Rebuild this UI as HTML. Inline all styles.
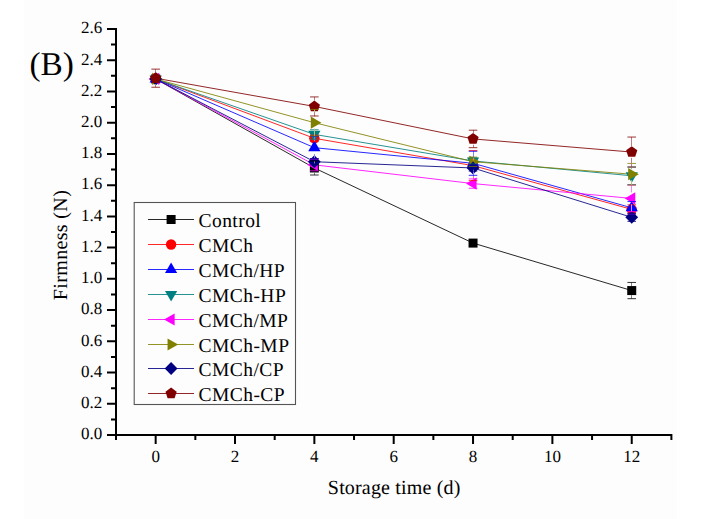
<!DOCTYPE html><html><head><meta charset="utf-8"><style>html,body{margin:0;padding:0;background:#fff;}svg{display:block;font-family:"Liberation Serif",serif;text-rendering:geometricPrecision;}</style></head><body>
<svg width="701" height="519" viewBox="0 0 701 519">
<rect width="701" height="519" fill="#ffffff"/>
<rect x="24" y="0" width="653" height="519" fill="#fdfdfd"/>
<polyline points="155.67,78.97 314.36,167.98 473.04,243.09 631.73,290.56" fill="none" stroke="#000000" stroke-width="0.85"/>
<polyline points="155.67,78.97 314.36,138.31 473.04,165.63 631.73,209.36" fill="none" stroke="#ff0000" stroke-width="0.85"/>
<polyline points="155.67,78.97 314.36,147.68 473.04,163.29 631.73,207.8" fill="none" stroke="#0000ff" stroke-width="0.85"/>
<polyline points="155.67,78.97 314.36,134.4 473.04,160.95 631.73,175.78" fill="none" stroke="#008080" stroke-width="0.85"/>
<polyline points="155.67,78.97 314.36,164.85 473.04,183.59 631.73,198.43" fill="none" stroke="#ff00ff" stroke-width="0.85"/>
<polyline points="155.67,78.97 314.36,122.69 473.04,161.73 631.73,174.22" fill="none" stroke="#808000" stroke-width="0.85"/>
<polyline points="155.67,78.97 314.36,161.73 473.04,167.98 631.73,217.32" fill="none" stroke="#000080" stroke-width="0.85"/>
<polyline points="155.67,78.19 314.36,106.45 473.04,138.93 631.73,152.05" fill="none" stroke="#800000" stroke-width="0.85"/>
<rect x="151.17" y="74.47" width="9" height="9" fill="#000000"/>
<rect x="309.86" y="163.48" width="9" height="9" fill="#000000"/>
<rect x="468.54" y="238.59" width="9" height="9" fill="#000000"/>
<rect x="627.23" y="286.06" width="9" height="9" fill="#000000"/>
<circle cx="155.67" cy="78.97" r="5.2" fill="#ff0000"/>
<circle cx="314.36" cy="138.31" r="5.2" fill="#ff0000"/>
<circle cx="473.04" cy="165.63" r="5.2" fill="#ff0000"/>
<circle cx="631.73" cy="209.36" r="5.2" fill="#ff0000"/>
<polygon points="155.67,71.9 149.57,82.5 161.77,82.5" fill="#0000ff"/>
<polygon points="314.36,140.61 308.26,151.21 320.46,151.21" fill="#0000ff"/>
<polygon points="473.04,156.23 466.94,166.83 479.14,166.83" fill="#0000ff"/>
<polygon points="631.73,200.73 625.63,211.33 637.83,211.33" fill="#0000ff"/>
<polygon points="155.67,86.04 149.57,75.44 161.77,75.44" fill="#008080"/>
<polygon points="314.36,141.47 308.26,130.87 320.46,130.87" fill="#008080"/>
<polygon points="473.04,168.02 466.94,157.42 479.14,157.42" fill="#008080"/>
<polygon points="631.73,182.85 625.63,172.25 637.83,172.25" fill="#008080"/>
<polygon points="148.6,78.97 159.2,72.87 159.2,85.07" fill="#ff00ff"/>
<polygon points="307.29,164.85 317.89,158.75 317.89,170.95" fill="#ff00ff"/>
<polygon points="465.98,183.59 476.58,177.49 476.58,189.69" fill="#ff00ff"/>
<polygon points="624.66,198.43 635.26,192.33 635.26,204.53" fill="#ff00ff"/>
<polygon points="162.74,78.97 152.14,72.87 152.14,85.07" fill="#808000"/>
<polygon points="321.42,122.69 310.82,116.59 310.82,128.79" fill="#808000"/>
<polygon points="480.11,161.73 469.51,155.63 469.51,167.83" fill="#808000"/>
<polygon points="638.8,174.22 628.2,168.12 628.2,180.32" fill="#808000"/>
<polygon points="155.67,72.57 162.07,78.97 155.67,85.37 149.27,78.97" fill="#000080"/>
<polygon points="314.36,155.33 320.76,161.73 314.36,168.13 307.96,161.73" fill="#000080"/>
<polygon points="473.04,161.58 479.44,167.98 473.04,174.38 466.64,167.98" fill="#000080"/>
<polygon points="631.73,210.92 638.13,217.32 631.73,223.72 625.33,217.32" fill="#000080"/>
<polygon points="155.67,72.29 161.28,76.37 159.14,82.96 152.2,82.96 150.06,76.37" fill="#800000"/>
<polygon points="314.36,100.55 319.97,104.63 317.83,111.23 310.89,111.23 308.75,104.63" fill="#800000"/>
<polygon points="473.04,133.03 478.65,137.11 476.51,143.71 469.57,143.71 467.43,137.11" fill="#800000"/>
<polygon points="631.73,146.15 637.34,150.23 635.2,156.82 628.26,156.82 626.12,150.23" fill="#800000"/>
<path d="M314.5 160.95V163.48M314.5 172.48V175" stroke="#7e7e7e" stroke-width="1" fill="none"/>
<path d="M310.06 160.95H318.66M310.06 175H318.66" stroke="#000000" stroke-width="0.8" fill="none"/>
<path d="M631.5 282.44V286.06M631.5 295.06V298.68" stroke="#7e7e7e" stroke-width="1" fill="none"/>
<path d="M627.43 282.44H636.03M627.43 298.68H636.03" stroke="#000000" stroke-width="0.8" fill="none"/>
<path d="M310.06 135.18H318.66M310.06 141.43H318.66" stroke="#ff0000" stroke-width="0.8" fill="none"/>
<path d="M473.5 150.64V160.43M473.5 170.83V180.63" stroke="#fe7e7e" stroke-width="1" fill="none"/>
<path d="M468.74 150.64H477.34M468.74 180.63H477.34" stroke="#ff0000" stroke-width="0.8" fill="none"/>
<path d="M627.43 204.83H636.03M627.43 213.89H636.03" stroke="#ff0000" stroke-width="0.8" fill="none"/>
<path d="M314.5 136.59V141.18M314.5 154.18V158.76" stroke="#7e7efe" stroke-width="1" fill="none"/>
<path d="M310.06 136.59H318.66M310.06 158.76H318.66" stroke="#0000ff" stroke-width="0.8" fill="none"/>
<path d="M473.5 151.27V156.79M473.5 169.79V175.32" stroke="#7e7efe" stroke-width="1" fill="none"/>
<path d="M468.74 151.27H477.34M468.74 175.32H477.34" stroke="#0000ff" stroke-width="0.8" fill="none"/>
<path d="M627.43 201.55H636.03M627.43 214.04H636.03" stroke="#0000ff" stroke-width="0.8" fill="none"/>
<path d="M310.06 129.72H318.66M310.06 139.09H318.66" stroke="#008080" stroke-width="0.8" fill="none"/>
<path d="M468.74 157.83H477.34M468.74 164.07H477.34" stroke="#008080" stroke-width="0.8" fill="none"/>
<path d="M631.5 167.04V169.28M631.5 182.28V184.53" stroke="#7ebebe" stroke-width="1" fill="none"/>
<path d="M627.43 167.04H636.03M627.43 184.53H636.03" stroke="#008080" stroke-width="0.8" fill="none"/>
<path d="M310.06 158.92H318.66M310.06 170.79H318.66" stroke="#ff00ff" stroke-width="0.8" fill="none"/>
<path d="M468.74 178.91H477.34M468.74 188.28H477.34" stroke="#ff00ff" stroke-width="0.8" fill="none"/>
<path d="M631.5 185.15V192.43M631.5 204.43V211.7" stroke="#fe7efe" stroke-width="1" fill="none"/>
<path d="M627.43 185.15H636.03M627.43 211.7H636.03" stroke="#ff00ff" stroke-width="0.8" fill="none"/>
<path d="M314.5 109.42V116.69M314.5 128.69V135.97" stroke="#bebe7e" stroke-width="1" fill="none"/>
<path d="M310.06 109.42H318.66M310.06 135.97H318.66" stroke="#808000" stroke-width="0.8" fill="none"/>
<path d="M468.74 157.05H477.34M468.74 166.42H477.34" stroke="#808000" stroke-width="0.8" fill="none"/>
<path d="M631.5 163.45V168.22M631.5 180.22V185" stroke="#bebe7e" stroke-width="1" fill="none"/>
<path d="M627.43 163.45H636.03M627.43 185H636.03" stroke="#808000" stroke-width="0.8" fill="none"/>
<path d="M310.06 158.61H318.66M310.06 164.85H318.66" stroke="#000080" stroke-width="0.8" fill="none"/>
<path d="M468.74 164.85H477.34M468.74 171.1H477.34" stroke="#000080" stroke-width="0.8" fill="none"/>
<path d="M627.43 213.26H636.03M627.43 221.38H636.03" stroke="#000080" stroke-width="0.8" fill="none"/>
<path d="M155.5 69.13V72.39M155.5 83.99V87.25" stroke="#be7e7e" stroke-width="1" fill="none"/>
<path d="M151.37 69.13H159.97M151.37 87.25H159.97" stroke="#800000" stroke-width="0.8" fill="none"/>
<path d="M314.5 96.93V100.65M314.5 112.25V115.98" stroke="#be7e7e" stroke-width="1" fill="none"/>
<path d="M310.06 96.93H318.66M310.06 115.98H318.66" stroke="#800000" stroke-width="0.8" fill="none"/>
<path d="M473.5 130.19V133.13M473.5 144.73V147.68" stroke="#be7e7e" stroke-width="1" fill="none"/>
<path d="M468.74 130.19H477.34M468.74 147.68H477.34" stroke="#800000" stroke-width="0.8" fill="none"/>
<path d="M631.5 137.06V146.25M631.5 157.85V167.04" stroke="#be7e7e" stroke-width="1" fill="none"/>
<path d="M627.43 137.06H636.03M627.43 167.04H636.03" stroke="#800000" stroke-width="0.8" fill="none"/>
<path d="M116 28V436M115 435H672.4M107 435H116M111 419.38H116M107 403.77H116M111 388.15H116M107 372.54H116M111 356.92H116M107 341.31H116M111 325.69H116M107 310.08H116M111 294.46H116M107 278.85H116M111 263.23H116M107 247.62H116M111 232H116M107 216.38H116M111 200.77H116M107 185.15H116M111 169.54H116M107 153.92H116M111 138.31H116M107 122.69H116M111 107.08H116M107 91.46H116M111 75.85H116M107 60.23H116M111 44.62H116M107 29H116M116 435V440M155.67 435V444M195.34 435V440M235.01 435V444M274.69 435V440M314.36 435V444M354.03 435V440M393.7 435V444M433.37 435V440M473.04 435V444M512.71 435V440M552.39 435V444M592.06 435V440M631.73 435V444M671.4 435V440" stroke="#000" stroke-width="2" fill="none" stroke-linecap="butt"/>
<text x="102.3" y="439.3" font-size="17" text-anchor="end">0.0</text>
<text x="102.3" y="408.07" font-size="17" text-anchor="end">0.2</text>
<text x="102.3" y="376.84" font-size="17" text-anchor="end">0.4</text>
<text x="102.3" y="345.61" font-size="17" text-anchor="end">0.6</text>
<text x="102.3" y="314.38" font-size="17" text-anchor="end">0.8</text>
<text x="102.3" y="283.15" font-size="17" text-anchor="end">1.0</text>
<text x="102.3" y="251.92" font-size="17" text-anchor="end">1.2</text>
<text x="102.3" y="220.68" font-size="17" text-anchor="end">1.4</text>
<text x="102.3" y="189.45" font-size="17" text-anchor="end">1.6</text>
<text x="102.3" y="158.22" font-size="17" text-anchor="end">1.8</text>
<text x="102.3" y="126.99" font-size="17" text-anchor="end">2.0</text>
<text x="102.3" y="95.76" font-size="17" text-anchor="end">2.2</text>
<text x="102.3" y="64.53" font-size="17" text-anchor="end">2.4</text>
<text x="102.3" y="33.3" font-size="17" text-anchor="end">2.6</text>
<text x="155.67" y="461.5" font-size="17" text-anchor="middle">0</text>
<text x="235.01" y="461.5" font-size="17" text-anchor="middle">2</text>
<text x="314.36" y="461.5" font-size="17" text-anchor="middle">4</text>
<text x="393.7" y="461.5" font-size="17" text-anchor="middle">6</text>
<text x="473.04" y="461.5" font-size="17" text-anchor="middle">8</text>
<text x="552.39" y="461.5" font-size="17" text-anchor="middle">10</text>
<text x="631.73" y="461.5" font-size="17" text-anchor="middle">12</text>
<text x="394.2" y="494.2" font-size="20" letter-spacing="0.17" text-anchor="middle">Storage time (d)</text>
<text transform="translate(67 245) rotate(-90)" font-size="20" letter-spacing="0.35" text-anchor="middle">Firmness (N)</text>
<text x="29.5" y="74.7" font-size="33.3">(B)</text>
<rect x="134.2" y="202.5" width="161.3" height="202" fill="none" stroke="#555" stroke-width="1.1"/>
<line x1="148" y1="219.5" x2="194" y2="219.5" stroke="#000000" stroke-width="0.85"/>
<rect x="166.6" y="215" width="9" height="9" fill="#000000"/>
<text x="198.5" y="226.5" font-size="19.5" letter-spacing="0.45">Control</text>
<line x1="148" y1="244.5" x2="194" y2="244.5" stroke="#ff0000" stroke-width="0.85"/>
<circle cx="171.1" cy="244.5" r="5.2" fill="#ff0000"/>
<text x="198.5" y="251.5" font-size="19.5" letter-spacing="0.45">CMCh</text>
<line x1="148" y1="269.5" x2="194" y2="269.5" stroke="#0000ff" stroke-width="0.85"/>
<polygon points="171.1,262.43 165,273.03 177.2,273.03" fill="#0000ff"/>
<text x="198.5" y="276.5" font-size="19.5" letter-spacing="0.45">CMCh/HP</text>
<line x1="148" y1="294.5" x2="194" y2="294.5" stroke="#008080" stroke-width="0.85"/>
<polygon points="171.1,301.57 165,290.97 177.2,290.97" fill="#008080"/>
<text x="198.5" y="301.5" font-size="19.5" letter-spacing="0.45">CMCh-HP</text>
<line x1="148" y1="319.5" x2="194" y2="319.5" stroke="#ff00ff" stroke-width="0.85"/>
<polygon points="164.03,319.5 174.63,313.4 174.63,325.6" fill="#ff00ff"/>
<text x="198.5" y="326.5" font-size="19.5" letter-spacing="0.45">CMCh/MP</text>
<line x1="148" y1="344.5" x2="194" y2="344.5" stroke="#808000" stroke-width="0.85"/>
<polygon points="178.17,344.5 167.57,338.4 167.57,350.6" fill="#808000"/>
<text x="198.5" y="351.5" font-size="19.5" letter-spacing="0.45">CMCh-MP</text>
<line x1="148" y1="368.5" x2="194" y2="368.5" stroke="#000080" stroke-width="0.85"/>
<polygon points="171.1,362.1 177.5,368.5 171.1,374.9 164.7,368.5" fill="#000080"/>
<text x="198.5" y="375.5" font-size="19.5" letter-spacing="0.45">CMCh/CP</text>
<line x1="148" y1="393.5" x2="194" y2="393.5" stroke="#800000" stroke-width="0.85"/>
<polygon points="171.1,387.6 176.71,391.68 174.57,398.27 167.63,398.27 165.49,391.68" fill="#800000"/>
<text x="198.5" y="400.5" font-size="19.5" letter-spacing="0.45">CMCh-CP</text>
</svg></body></html>
